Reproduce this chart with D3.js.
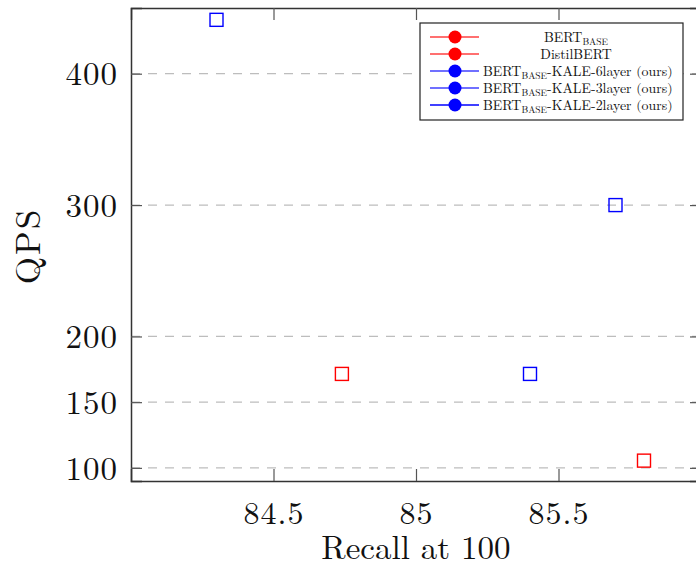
<!DOCTYPE html>
<html><head><meta charset="utf-8">
<script src="https://cdn.jsdelivr.net/npm/d3@7"></script>
<style>body{margin:0;background:#fff}svg{display:block}text{font-family:"Latin Modern Roman","Liberation Serif","DejaVu Serif",serif}</style>
</head><body>
<script>
const seriesNames = ["BERT_BASE","DistilBERT","BERT_BASE-KALE-6layer (ours)","BERT_BASE-KALE-3layer (ours)","BERT_BASE-KALE-2layer (ours)"];
const seriesColors = ["red","red","blue","blue","blue"];
const lineOpacity = [0.75,0.75,0.75,0.75,1];
const recall = [84.74, 85.80, 85.70, 85.40, 84.30];
const qps = [171.5, 105.5, 300, 171.5, 441];
const xTicks = [84.5, 85, 85.5];
const yTicks = [100, 150, 200, 300, 400];

const W=696,H=565;
const m={l:131,t:8,r:701,b:481};
const svg=d3.select("body").append("svg").attr("width",W).attr("height",H);
const x=d3.scaleLinear().domain([84,86]).range([m.l,m.r]);
const y=d3.scaleLinear().domain([90,450]).range([m.b,m.t]);
const serif='"Latin Modern Roman","Liberation Serif","DejaVu Serif",serif';

svg.append("g").selectAll("line").data(yTicks).join("line")
 .attr("x1",m.l).attr("x2",m.r).attr("y1",d=>y(d)).attr("y2",d=>y(d))
 .attr("stroke","#bdbdbd").attr("stroke-width",1.2).attr("stroke-dasharray","9,8");

const tc="#555";
const gB=svg.append("g").attr("transform",`translate(0,${m.b})`).call(d3.axisBottom(x).tickValues(xTicks).tickSize(-12).tickPadding(20).tickFormat(d3.format("")));
const gT=svg.append("g").attr("transform",`translate(0,${m.t})`).call(d3.axisTop(x).tickValues(xTicks).tickSize(-12).tickFormat(""));
const gL=svg.append("g").attr("transform",`translate(${m.l},0)`).call(d3.axisLeft(y).tickValues(yTicks).tickSize(-11).tickPadding(13));
const gR=svg.append("g").attr("transform",`translate(${m.r},0)`).call(d3.axisRight(y).tickValues(yTicks).tickSize(-11).tickFormat(""));
[gB,gT,gL,gR].forEach(g=>{g.attr("font-family",serif);g.select(".domain").attr("stroke","#333").attr("stroke-width",1.5);g.selectAll(".tick line").attr("stroke",tc).attr("stroke-width",1.2);});
gB.selectAll("text").attr("font-size",32).attr("letter-spacing",1).attr("fill","#111");
gL.selectAll("text").attr("font-size",33).attr("letter-spacing",1).attr("fill","#111").attr("dy","0.34em");

svg.append("text").attr("x",416).attr("y",559).attr("text-anchor","middle").attr("font-size",33).attr("fill","#111").text("Recall at 100");
svg.append("text").attr("transform","translate(40,246) rotate(-90)").attr("text-anchor","middle").attr("font-size",35).attr("letter-spacing",2).attr("fill","#111").text("QPS");

const s=13;
svg.append("g").selectAll("rect").data(recall).join("rect")
 .attr("x",(d,i)=>x(d)-s/2).attr("y",(d,i)=>y(qps[i])-s/2).attr("width",s).attr("height",s)
 .attr("fill","none").attr("stroke",(d,i)=>seriesColors[i]).attr("stroke-width",1.4);

const lg=svg.append("g");
lg.append("rect").attr("x",420).attr("y",23).attr("width",263).attr("height",97).attr("fill","#fff").attr("stroke","#222").attr("stroke-width",1.2);
const rowY=[37,54,71,88,105];
seriesNames.forEach((n,i)=>{
  const yy=rowY[i];
  lg.append("line").attr("x1",430).attr("x2",479).attr("y1",yy).attr("y2",yy).attr("stroke",seriesColors[i]).attr("stroke-opacity",lineOpacity[i]).attr("stroke-width",1.3);
  lg.append("circle").attr("cx",455).attr("cy",yy).attr("r",6.5).attr("fill",seriesColors[i]);
  const parts=n.split("_BASE");
  const centered=i<2;
  const t=lg.append("text").attr("x",centered?576:483).attr("y",yy+4.5).attr("text-anchor",centered?"middle":"start").attr("font-size",13.9).attr("fill","#111");
  if(parts.length>1){
    t.append("tspan").text(parts[0]);
    t.append("tspan").attr("font-size",9.5).attr("dy",3).text("BASE");
    t.append("tspan").attr("dy",-3).text(parts[1]);
  } else t.text(n);
});
</script>
</body></html>
